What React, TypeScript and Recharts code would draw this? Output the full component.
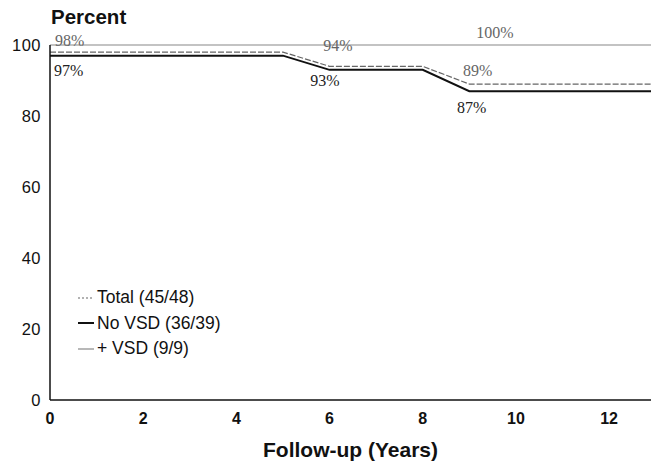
import React from "react";
import {
  LineChart,
  Line,
  XAxis,
  YAxis,
  ReferenceDot,
} from "recharts";

// follow-up time in years where the curves change slope
const years = [0, 5, 6, 8, 9, 12.9];
const total = [98, 98, 94, 94, 89, 89];
const noVsd = [97, 97, 93, 93, 87, 87];
const plusVsd = [100, 100, 100, 100, 100, 100];

const xTicks = [0, 2, 4, 6, 8, 10, 12];
const yTicks = [0, 20, 40, 60, 80, 100];

// percent labels written next to the curves (data units)
const notes = [
  { x: 0.42, y: 101.4, text: "98%", faint: true },
  { x: 0.4, y: 93, text: "97%", faint: false },
  { x: 6.18, y: 100, text: "94%", faint: true },
  { x: 5.9, y: 90.1, text: "93%", faint: false },
  { x: 9.55, y: 103.7, text: "100%", faint: true },
  { x: 9.18, y: 93, text: "89%", faint: true },
  { x: 9.05, y: 82.5, text: "87%", faint: false },
];

const series = [
  { key: "total", name: "Total (45/48)", color: "#666", width: 1.2, dash: "6 2" },
  { key: "noVsd", name: "No VSD (36/39)", color: "#111", width: 2, dash: undefined },
  { key: "plusVsd", name: "+ VSD (9/9)", color: "#888", width: 1.2, dash: undefined },
];

const data = years.map((t, i) => ({
  t,
  total: total[i],
  noVsd: noVsd[i],
  plusVsd: plusVsd[i],
}));

const font = "'Liberation Sans', Arial, sans-serif";

function LegendBox() {
  return (
    <div style={{ position: "absolute", left: 76, top: 285, fontFamily: font, fontSize: 17.5, color: "#111" }}>
      {series.map((s) => (
        <div key={s.key} style={{ display: "flex", alignItems: "center", height: 25.5 }}>
          <svg width={18} height={10}>
            <line x1={2} y1={5} x2={18} y2={5} stroke={s.color} strokeWidth={s.width} strokeDasharray={s.key === "total" ? "2 2" : undefined} />
          </svg>
          <span style={{ marginLeft: 3 }}>{s.name}</span>
        </div>
      ))}
    </div>
  );
}

export default function App() {
  return (
    <div style={{ position: "absolute", left: 0, top: 0, width: 657, height: 468, background: "#fff" }}>
      <div
        style={{
          position: "absolute",
          left: 51,
          top: 5,
          fontFamily: font,
          fontWeight: "bold",
          fontSize: 20.5,
          color: "#111",
        }}
      >
        Percent
      </div>
      <LineChart width={657} height={468} data={data} margin={{ top: 45, right: 6, bottom: 0, left: 0 }}>
        <XAxis
          dataKey="t"
          type="number"
          domain={[0, "dataMax"]}
          ticks={xTicks}
          tickLine={false}
          tickMargin={7}
          axisLine={{ stroke: "#111", strokeWidth: 1.5 }}
          tick={{ fill: "#111", fontSize: 16, fontWeight: "bold", fontFamily: font }}
          height={68}
          label={{
            value: "Follow-up (Years)",
            position: "insideBottom",
            offset: 11,
            fill: "#111",
            fontSize: 21,
            fontWeight: "bold",
            fontFamily: font,
          }}
        />
        <YAxis
          type="number"
          domain={[0, 100]}
          ticks={yTicks}
          tickLine={false}
          tickMargin={3}
          width={50}
          axisLine={{ stroke: "#111", strokeWidth: 1.5 }}
          tick={{ fill: "#111", fontSize: 16.5, fontFamily: font, letterSpacing: 0.5 }}
        />
        {series.map((s) => (
          <Line
            key={s.key}
            dataKey={s.key}
            name={s.name}
            type="linear"
            stroke={s.color}
            strokeWidth={s.width}
            strokeDasharray={s.dash}
            dot={false}
            activeDot={false}
            isAnimationActive={false}
          />
        ))}
        {notes.map((n) => (
          <ReferenceDot
            key={n.text}
            x={n.x}
            y={n.y}
            r={0}
            ifOverflow="visible"
            label={{
              value: n.text,
              position: "center",
              fill: n.faint ? "#666" : "#222",
              fontSize: 16,
              fontFamily: "'Liberation Serif', serif",
            }}
          />
        ))}
      </LineChart>
      <LegendBox />
    </div>
  );
}
